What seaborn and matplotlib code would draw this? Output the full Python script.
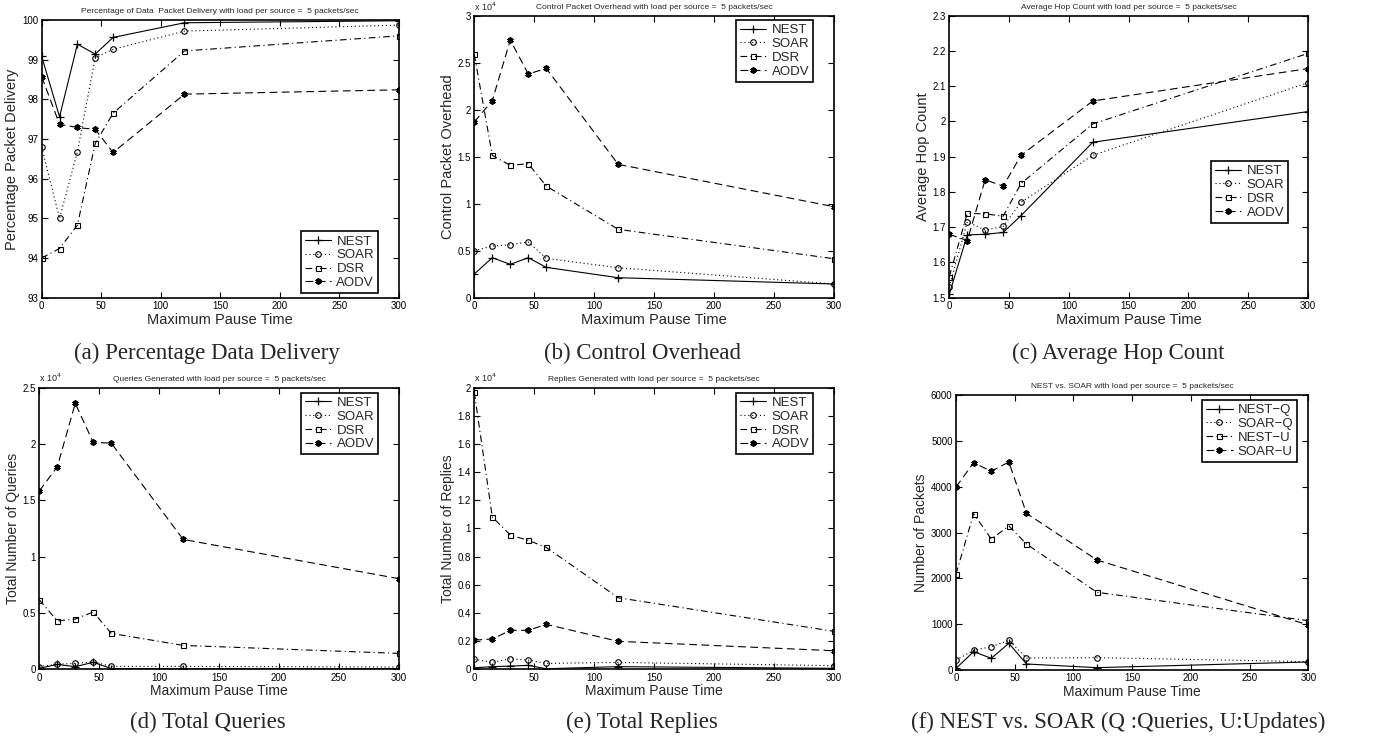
import matplotlib
matplotlib.use("Agg")
import matplotlib.pyplot as plt
import seaborn as sns
from matplotlib.ticker import FuncFormatter, FixedLocator

# ---------------- data ----------------
pause = [0, 15, 30, 45, 60, 120, 300]

delivery_nest = [99.08, 97.56, 99.39, 99.14, 99.56, 99.93, 99.98]
delivery_soar = [96.79, 95.00, 96.68, 99.05, 99.26, 99.72, 99.87]
delivery_dsr = [94.00, 94.24, 94.83, 96.89, 97.65, 99.22, 99.60]
delivery_aodv = [98.57, 97.37, 97.29, 97.24, 96.66, 98.13, 98.24]

overhead_nest = [2520, 4260, 3550, 4260, 3230, 2130, 1460]
overhead_soar = [5000, 5500, 5640, 5930, 4190, 3190, 1460]
overhead_dsr = [25900, 15160, 14090, 14270, 11890, 7280, 4150]
overhead_aodv = [18710, 20980, 27440, 23820, 24420, 14200, 9690]

hop_nest = [1.51, 1.678, 1.680, 1.685, 1.733, 1.941, 2.028]
hop_soar = [1.531, 1.715, 1.692, 1.702, 1.771, 1.904, 2.110]
hop_dsr = [1.560, 1.739, 1.738, 1.731, 1.824, 1.993, 2.193]
hop_aodv = [1.680, 1.662, 1.835, 1.816, 1.904, 2.058, 2.150]

queries_nest = [60, 410, 210, 600, 40, 20, 30]
queries_soar = [220, 430, 500, 640, 240, 230, 180]
queries_dsr = [6160, 4270, 4440, 5070, 3170, 2100, 1390]
queries_aodv = [15820, 17980, 23610, 20140, 20080, 11520, 8030]

replies_nest = [90, 170, 210, 260, 20, 170, 50]
replies_soar = [690, 475, 730, 640, 400, 470, 240]
replies_dsr = [19670, 10810, 9530, 9150, 8650, 5070, 2680]
replies_aodv = [2060, 2130, 2750, 2750, 3180, 1970, 1300]

nest_q = [36, 400, 255, 582, 131, 51, 175]
soar_q = [218, 429, 509, 647, 262, 269, 182]
nest_u = [2095, 3411, 2858, 3142, 2749, 1695, 1076]
soar_u = [3993, 4524, 4335, 4538, 3418, 2400, 982]

labels4 = ["NEST", "SOAR", "DSR", "AODV"]
labels_f = ["NEST\u2212Q", "SOAR\u2212Q", "NEST\u2212U", "SOAR\u2212U"]

titles = [
    "Percentage of Data  Packet Delivery with load per source =  5 packets/sec",
    "Control Packet Overhead with load per source =  5 packets/sec",
    "Average Hop Count with load per source =  5 packets/sec",
    "Queries Generated with load per source =  5 packets/sec",
    "Replies Generated with load per source =  5 packets/sec",
    "NEST vs. SOAR with load per source =  5 packets/sec",
]
ylabels = ["Percentage Packet Delivery", "Control Packet Overhead", "Average Hop Count",
           "Total Number of Queries", "Total Number of Replies", "Number of Packets"]
captions = ["(a) Percentage Data Delivery", "(b) Control Overhead", "(c) Average Hop Count",
            "(d) Total Queries", "(e) Total Replies", "(f) NEST vs. SOAR (Q :Queries, U:Updates)"]

# ---------------- style ----------------
sns.set_style("ticks")
plt.rcParams["font.family"] = ["Liberation Sans", "DejaVu Sans"]

fig = plt.figure(figsize=(13.74, 7.40), dpi=100)

positions = [
    [0.03035, 0.5977, 0.2598, 0.3753],
    [0.3452, 0.5977, 0.2618, 0.3807],
    [0.6909, 0.5977, 0.2611, 0.3811],
    [0.0286, 0.0959, 0.2618, 0.3801],
    [0.3452, 0.0959, 0.2618, 0.3801],
    [0.6958, 0.0946, 0.2564, 0.3716],
]

styles = [
    dict(linestyle="-", marker="+", markersize=5.5, markerfacecolor="k", markeredgewidth=0.9),
    dict(linestyle=(0, (1, 2.5)), marker="o", markersize=4, markerfacecolor="none", markeredgewidth=0.8),
    dict(linestyle=(0, (6, 3, 1, 3)), marker="s", markersize=3.6, markerfacecolor="none", markeredgewidth=0.8),
    dict(linestyle=(0, (7, 4)), marker=(6, 2, 0), markersize=4.5, markerfacecolor="k", markeredgewidth=1.3),
]

series = [
    [delivery_nest, delivery_soar, delivery_dsr, delivery_aodv],
    [overhead_nest, overhead_soar, overhead_dsr, overhead_aodv],
    [hop_nest, hop_soar, hop_dsr, hop_aodv],
    [queries_nest, queries_soar, queries_dsr, queries_aodv],
    [replies_nest, replies_soar, replies_dsr, replies_aodv],
    [nest_q, soar_q, nest_u, soar_u],
]

ylims = [(93, 100), (0, 30000), (1.5, 2.3), (0, 25000), (0, 20000), (0, 6000)]
yticks = [
    [93, 94, 95, 96, 97, 98, 99, 100],
    [0, 5000, 10000, 15000, 20000, 25000, 30000],
    [1.5, 1.6, 1.7, 1.8, 1.9, 2.0, 2.1, 2.2, 2.3],
    [0, 5000, 10000, 15000, 20000, 25000],
    [0, 2000, 4000, 6000, 8000, 10000, 12000, 14000, 16000, 18000, 20000],
    [0, 1000, 2000, 3000, 4000, 5000, 6000],
]
scaled = [False, True, False, True, True, False]

legend_loc = [
    ("lower right", (0.942, 0.017)),
    ("upper right", (0.9425, 0.986)),
    ("upper right", (0.945, 0.485)),
    ("upper right", (0.9425, 0.982)),
    ("upper right", (0.9425, 0.982)),
    ("upper right", (0.969, 0.982)),
]

caption_pos = [(207, 359), (643, 359), (1118, 359), (208, 728), (642, 728), (1118, 728)]

for i in range(6):
    ax = fig.add_axes(positions[i])
    labs = labels_f if i == 5 else labels4
    for j in range(4):
        st = styles[j]
        sns.lineplot(x=pause, y=series[i][j], ax=ax, color="k", linewidth=0.8,
                     label=labs[j], markeredgecolor="k", sort=False, **st)
    ax.set_xlim(0, 300)
    ax.set_ylim(*ylims[i])
    ax.xaxis.set_major_locator(FixedLocator([0, 50, 100, 150, 200, 250, 300]))
    ax.yaxis.set_major_locator(FixedLocator(yticks[i]))
    if scaled[i]:
        ax.yaxis.set_major_formatter(FuncFormatter(lambda v, p: "%g" % (v / 1e4)))
        ax.text(0.0, 1.012, r"x 10$^4$", transform=ax.transAxes, ha="left", va="bottom",
                fontsize=6.5)
    else:
        ax.yaxis.set_major_formatter(FuncFormatter(lambda v, p: "%g" % round(v, 3)))
    ax.tick_params(direction="in", length=4, width=0.8, labelsize=7, pad=2.5,
                   top=True, right=True, colors="k")
    for s in ax.spines.values():
        s.set_linewidth(1.2)
        s.set_color("k")
        s.set_visible(True)
    fs_lab = 10.5 if i < 3 else 10
    ax.set_xlabel("Maximum Pause Time", fontsize=fs_lab, labelpad=1)
    ax.set_ylabel(ylabels[i], fontsize=fs_lab, labelpad=2)
    ax.set_title(titles[i], fontsize=6, pad=5)
    loc, anchor = legend_loc[i]
    handles, hl = ax.get_legend_handles_labels()
    leg = ax.legend(handles, hl, loc=loc, bbox_to_anchor=anchor, fontsize=9.5,
                    frameon=True, fancybox=False, framealpha=1, edgecolor="k",
                    handlelength=2.0, labelspacing=0.12, borderpad=0.3,
                    handletextpad=0.4, borderaxespad=0.0, numpoints=1)
    leg.get_frame().set_linewidth(1.2)

for cap, (cx, cy) in zip(captions, caption_pos):
    fig.text(cx / 1374, 1 - cy / 740, cap, ha="center", va="baseline",
             fontsize=16.5, family="Liberation Serif")

fig.savefig("out.png", dpi=100, facecolor="white")
